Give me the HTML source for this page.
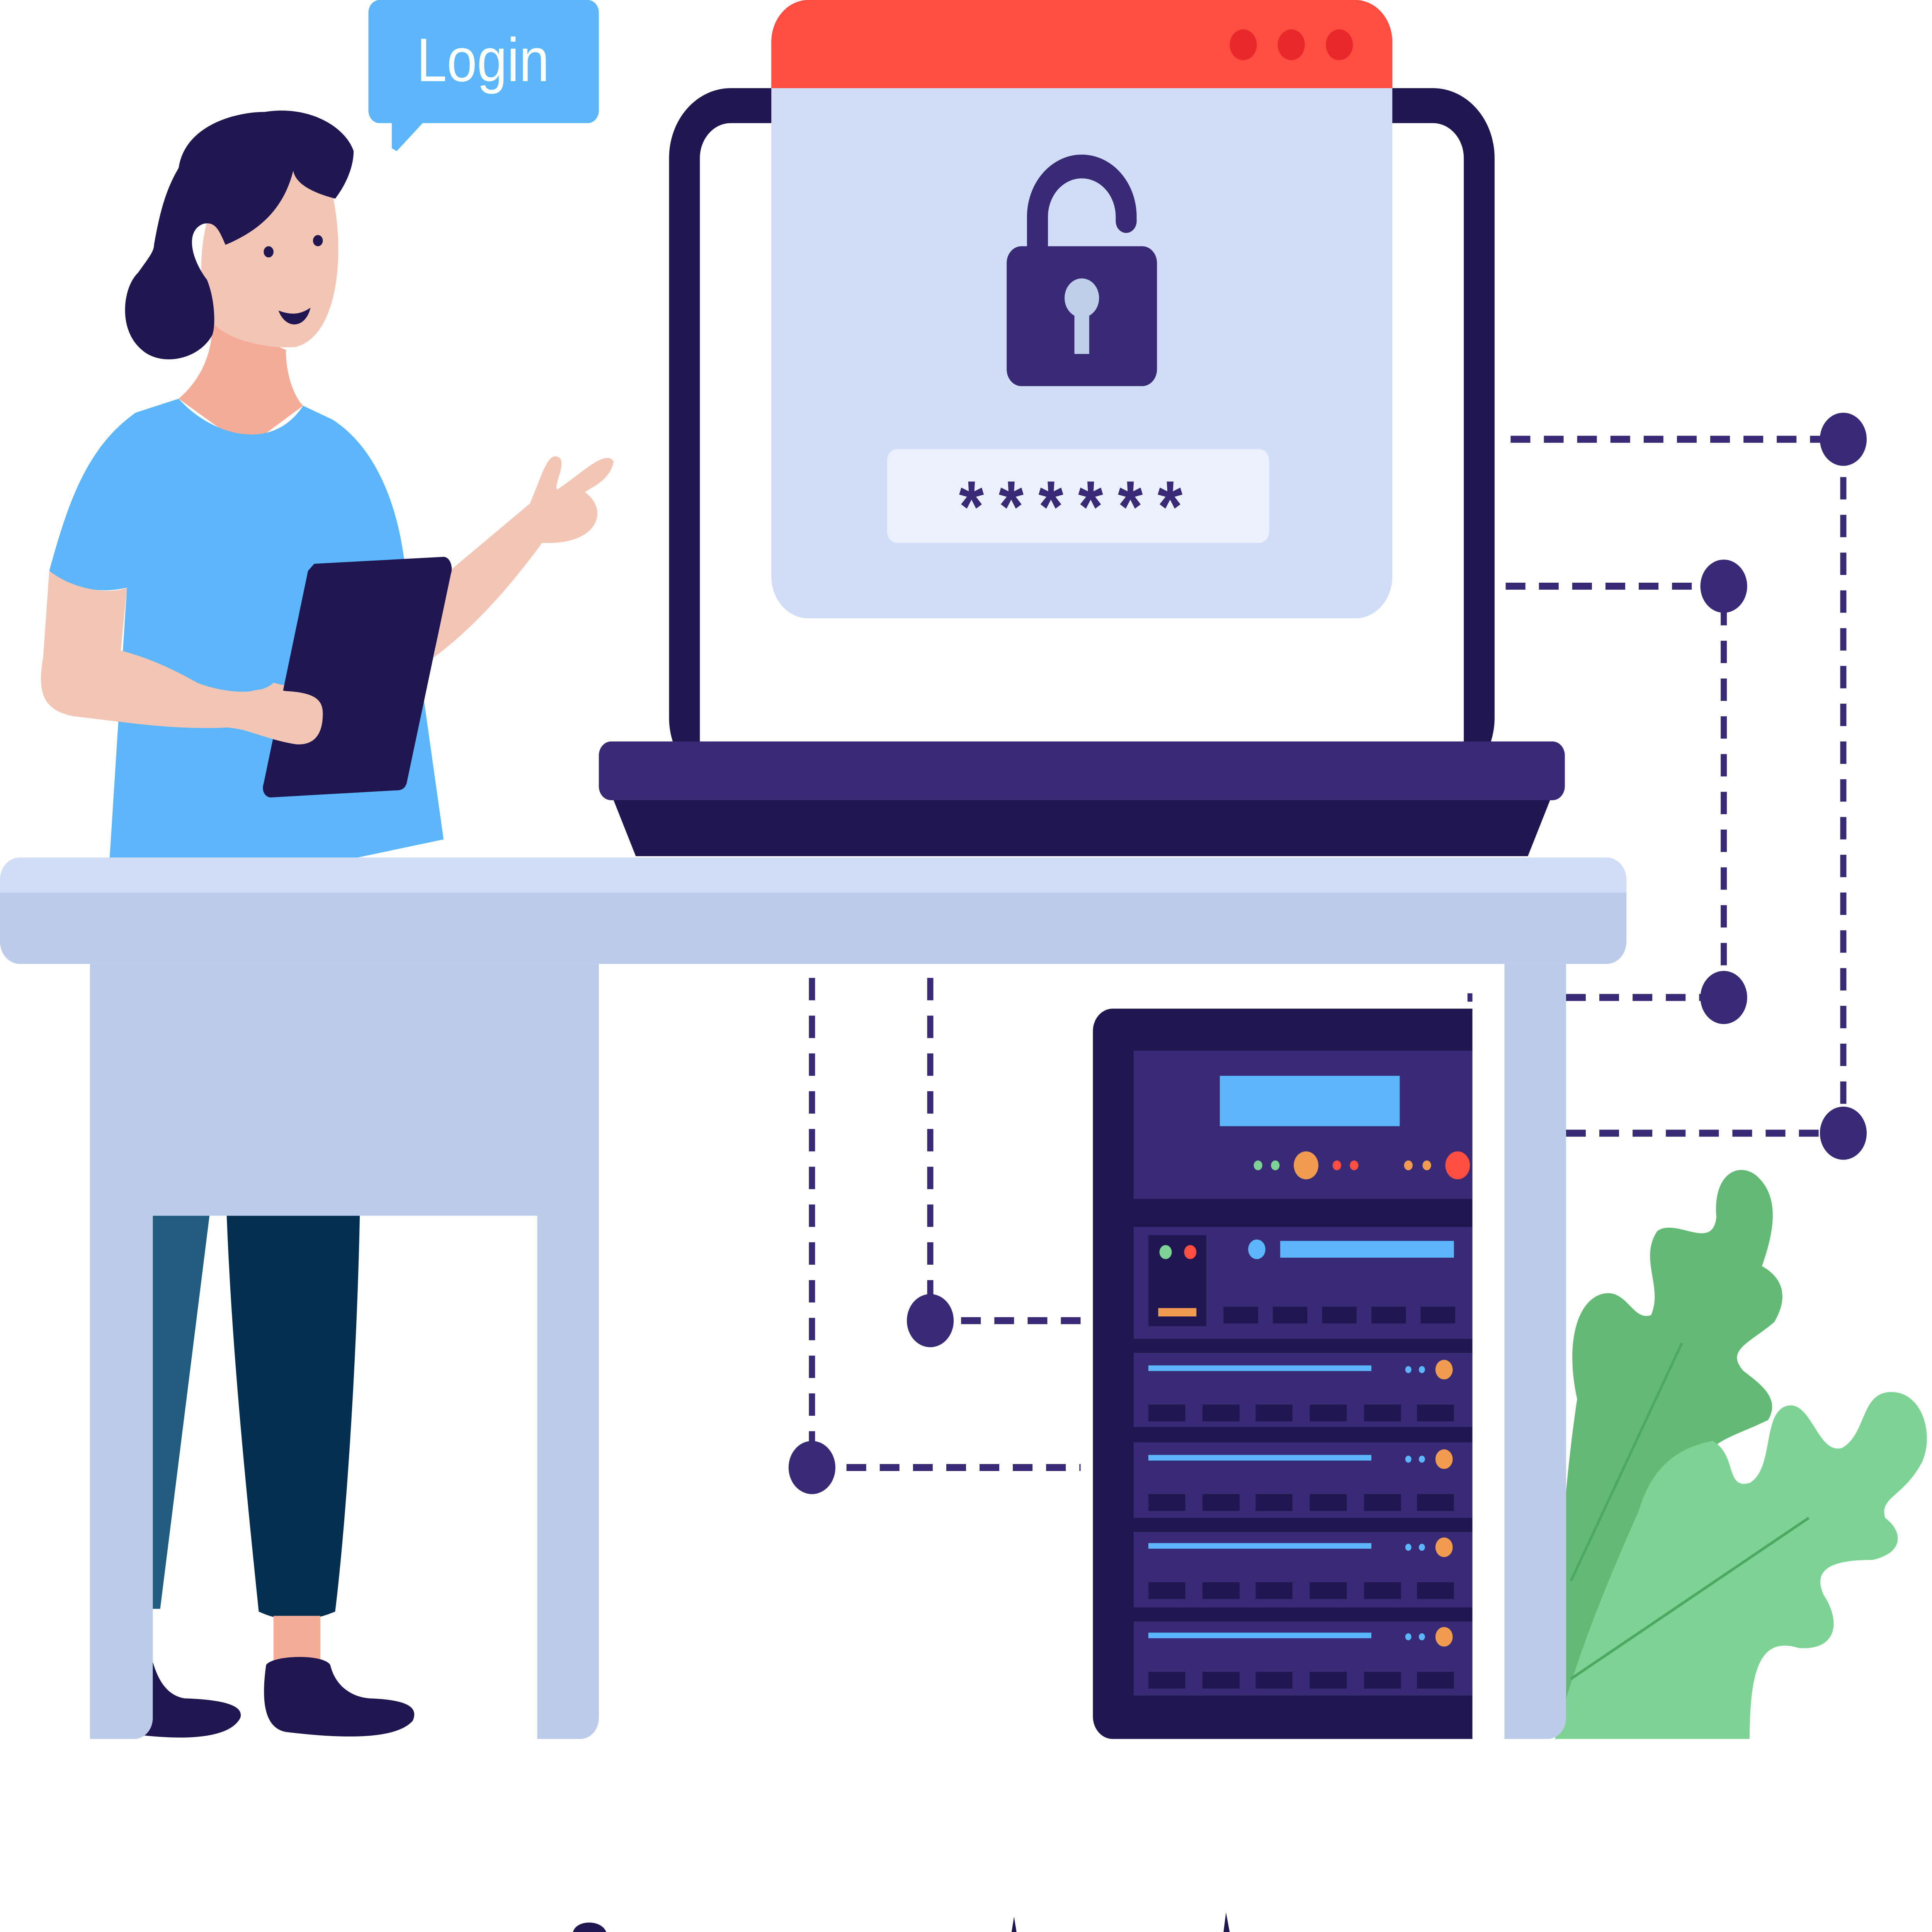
<!DOCTYPE html>
<html><head><meta charset="utf-8"><style>
html,body{margin:0;padding:0;background:#fff;overflow:hidden;width:100vw;height:100vh}
svg{display:block;position:absolute;left:0;top:0;width:100vw;height:100vh}
</style></head><body>
<svg viewBox="0 0 1568 1381" preserveAspectRatio="none" xmlns="http://www.w3.org/2000/svg">
<rect width="1568" height="1381" fill="#fff"/>
<g stroke="#392A76" stroke-width="5" fill="none" stroke-dasharray="16 11">
<path d="M1226 314H1496V810"/>
<path d="M1271 810H1496"/>
<path d="M1222 419H1399V713"/>
<path d="M1271 713H1399"/>
<path d="M755 699V944H887"/>
<path d="M659 699V1049H877"/>
</g>
<g fill="#392A76">
<circle cx="1496" cy="314" r="19"/><circle cx="1496" cy="810" r="19"/>
<circle cx="1399" cy="419" r="19"/><circle cx="1399" cy="713" r="19"/>
<circle cx="755" cy="944" r="19"/><circle cx="659" cy="1049" r="19"/>
</g>
<path d="M1270 1243 C1260 1150 1270 1060 1280 1000 C1270 960 1280 930 1300 925 C1320 920 1325 945 1340 940 C1350 920 1330 900 1345 880 C1360 870 1390 895 1393 870 C1390 840 1410 830 1425 840 C1445 855 1440 880 1430 905 C1450 915 1450 930 1440 945 C1420 960 1400 965 1415 980 C1430 990 1445 1000 1435 1015 C1400 1030 1380 1030 1380 1060 L1330 1150 Z" fill="#62BA74"/>
<path d="M1262 1243 C1280 1180 1310 1120 1330 1080 C1340 1050 1360 1035 1390 1030 C1410 1040 1400 1065 1420 1060 C1440 1050 1430 1010 1450 1005 C1470 1000 1475 1040 1495 1035 C1515 1025 1510 995 1535 995 C1560 995 1570 1025 1560 1045 C1545 1070 1525 1070 1530 1085 C1545 1095 1545 1110 1520 1115 C1490 1115 1470 1120 1480 1140 C1495 1160 1490 1180 1460 1178 C1430 1170 1420 1190 1420 1243 Z" fill="#7DD394"/>
<g stroke="#4FA862" stroke-width="2" fill="none">
<path d="M1275 1130 L1365 960"/><path d="M1275 1200 L1468 1085"/>
</g>
<rect x="543" y="63" width="670" height="500" rx="50" fill="#201650"/>
<rect x="568" y="88" width="620" height="470" rx="25" fill="#fff"/>
<rect x="626" y="0" width="504" height="442" rx="30" fill="#D1DCF6"/>
<path d="M656 0H1100A30 30 0 0 1 1130 30V63H626V30A30 30 0 0 1 656 0Z" fill="#FF4D42"/>
<g fill="#E8282B"><circle cx="1009" cy="32" r="11"/><circle cx="1048" cy="32" r="11"/><circle cx="1087" cy="32" r="11"/></g>
<path d="M842 176V155A36 36 0 0 1 914 155V158" stroke="#392A76" stroke-width="17" fill="none" stroke-linecap="round"/>
<rect x="817" y="176" width="122" height="100" rx="12" fill="#392A76"/>
<circle cx="878" cy="213" r="14" fill="#BFCEEB"/><rect x="872" y="218" width="12" height="35" fill="#BFCEEB"/>
<rect x="720" y="321" width="310" height="67" rx="8" fill="#EAF0FC"/>
<text x="875" y="380" text-anchor="middle" font-family="Liberation Sans, sans-serif" font-size="52" font-weight="bold" fill="#392A76" letter-spacing="12">******</text>
<rect x="486" y="530" width="784" height="42" rx="10" fill="#392A76"/>
<path d="M498 572H1258L1240 612H516Z" fill="#201650"/>
<rect x="299" y="0" width="187" height="88" rx="9" fill="#5BB6FB"/>
<path d="M318 86V106L322 108L343 88Z" fill="#5BB6FB"/>
<text x="392" y="58" text-anchor="middle" font-family="Liberation Sans, sans-serif" font-size="44" fill="#fff">Login</text>
<path d="M124 869H170L130 1150H124Z" fill="#1F5C80"/>
<path d="M184 869H292C290 960 282 1080 272 1152C250 1160 230 1160 210 1152C198 1050 188 960 184 869Z" fill="#052F51"/>
<rect x="222" y="1155" width="38" height="35" fill="#F4AB98"/>
<path d="M216 1190C222 1183 262 1182 268 1190C272 1205 285 1213 300 1214C330 1215 340 1220 335 1230C320 1245 270 1242 232 1238C214 1235 212 1215 216 1190Z" fill="#201650"/>
<path d="M124 1188C128 1200 135 1212 150 1214C185 1215 198 1220 195 1228C185 1245 140 1243 112 1240Z" fill="#201650"/>
<path d="M160 230L175 230L232 250C232 270 240 285 246 290L200 320L145 285C165 270 172 250 172 235Z" fill="#F4AB98"/>
<path d="M175 140C190 110 250 110 270 140C280 180 275 240 240 248C210 250 180 240 172 230C160 210 160 170 175 140Z" fill="#F2C5B5"/>
<path d="M145 120C150 90 190 80 215 80C250 75 280 90 287 108C287 120 280 133 272 142C255 138 240 132 238 122C230 150 210 165 183 175C178 165 175 158 165 160C150 165 155 185 168 200C175 215 175 235 172 240C160 258 130 262 115 250C95 235 100 205 112 195C120 185 125 180 125 175C130 150 135 135 145 120Z" fill="#201650"/>
<circle cx="218" cy="180" r="4" fill="#201650"/><circle cx="258" cy="172" r="4" fill="#201650"/>
<path d="M226 222C238 226 245 224 252 220C248 235 232 236 226 222Z" fill="#201650"/>
<path d="M145 285C170 310 220 325 246 290L270 300C305 320 322 360 328 400L360 600L290 613H89L103 420C80 425 55 420 40 408C55 360 70 320 110 295Z" fill="#5BB6FB"/>
<path d="M40 408C60 422 90 425 103 420L98 465C120 470 140 478 160 488C180 495 210 498 222 488C240 492 262 495 262 505C262 525 255 535 240 532C220 528 205 522 185 520C140 522 100 516 60 512C35 508 30 495 35 470Z" fill="#F2C5B5"/>
<path d="M352 470L365 408L430 360C440 340 445 320 455 328C458 335 450 345 452 350C470 340 492 320 498 330C495 345 475 350 475 352C495 365 485 390 440 388C420 412 390 445 352 470Z" fill="#F2C5B5"/>
<path d="M255 403L360 398C365 398 368 405 366 410L330 560C328 565 324 565 320 565L220 570C215 570 212 565 214 560L250 408Z" fill="#201650"/>
<path d="M200 495C210 492 220 492 232 494C255 495 262 500 262 510C262 525 255 533 240 532C225 530 210 525 198 522Z" fill="#F2C5B5"/>
<rect x="0" y="613" width="1320" height="76" rx="16" fill="#BDCBEA"/>
<path d="M16 613H1304A16 16 0 0 1 1320 629V638H0V629A16 16 0 0 1 16 613Z" fill="#D1DCF6"/>
<path d="M73 689H486V1228A15 15 0 0 1 471 1243H436V869H124V1228A15 15 0 0 1 109 1243H73Z" fill="#BDCBEA"/>
<rect x="887" y="721" width="323" height="522" rx="16" fill="#201650"/>
<g fill="#392A76">
<rect x="920" y="751" width="280" height="106"/>
<rect x="920" y="877" width="280" height="80"/>
<rect x="920" y="967" width="280" height="53"/>
<rect x="920" y="1031" width="280" height="54"/>
<rect x="920" y="1095" width="280" height="54"/>
<rect x="920" y="1159" width="280" height="53"/>
</g>
<rect x="990" y="769" width="146" height="36" fill="#5BB6FB"/>
<circle cx="1021" cy="833" r="3.5" fill="#7DD394"/><circle cx="1035" cy="833" r="3.5" fill="#7DD394"/>
<circle cx="1060" cy="833" r="10" fill="#F09B50"/>
<circle cx="1085" cy="833" r="3.5" fill="#FF4D42"/><circle cx="1099" cy="833" r="3.5" fill="#FF4D42"/>
<circle cx="1143" cy="833" r="3.5" fill="#F09B50"/><circle cx="1158" cy="833" r="3.5" fill="#F09B50"/>
<circle cx="1183" cy="833" r="10" fill="#FF4D42"/>
<rect x="932" y="883" width="47" height="65" fill="#201650"/>
<circle cx="946" cy="895" r="5" fill="#7DD394"/><circle cx="966" cy="895" r="5" fill="#FF4D42"/>
<rect x="940" y="935" width="31" height="6" fill="#F09B50"/>
<circle cx="1020" cy="893" r="7" fill="#5BB6FB"/>
<rect x="1039" y="887" width="141" height="12" fill="#5BB6FB"/>
<g fill="#201650">
<rect x="993" y="934" width="28" height="12"/><rect x="1033" y="934" width="28" height="12"/><rect x="1073" y="934" width="28" height="12"/><rect x="1113" y="934" width="28" height="12"/><rect x="1153" y="934" width="28" height="12"/>
</g>
<g id="u">
<rect x="932" y="976" width="181" height="4" fill="#5BB6FB"/>
<circle cx="1143" cy="979" r="2.5" fill="#5BB6FB"/><circle cx="1154" cy="979" r="2.5" fill="#5BB6FB"/>
<circle cx="1172" cy="979" r="7" fill="#F09B50"/>
<g fill="#201650"><rect x="932" y="1004" width="30" height="12"/><rect x="976" y="1004" width="30" height="12"/><rect x="1019" y="1004" width="30" height="12"/><rect x="1063" y="1004" width="30" height="12"/><rect x="1107" y="1004" width="30" height="12"/><rect x="1150" y="1004" width="30" height="12"/></g>
</g>
<use href="#u" y="64"/><use href="#u" y="127"/><use href="#u" y="191"/>
<rect x="1195" y="700" width="26" height="543" fill="#fff"/>
<rect x="1191" y="710" width="4" height="6" fill="#392A76"/>
<path d="M1221 689H1271V1228A15 15 0 0 1 1256 1243H1221Z" fill="#BDCBEA"/>
<path d="M465 1381C468 1372 488 1372 492 1381Z" fill="#201650"/>
<path d="M821 1381L823 1370L825 1381Z" fill="#201650"/>
<path d="M993 1381L995 1367L998 1381Z" fill="#201650"/>
</svg>
</body></html>
